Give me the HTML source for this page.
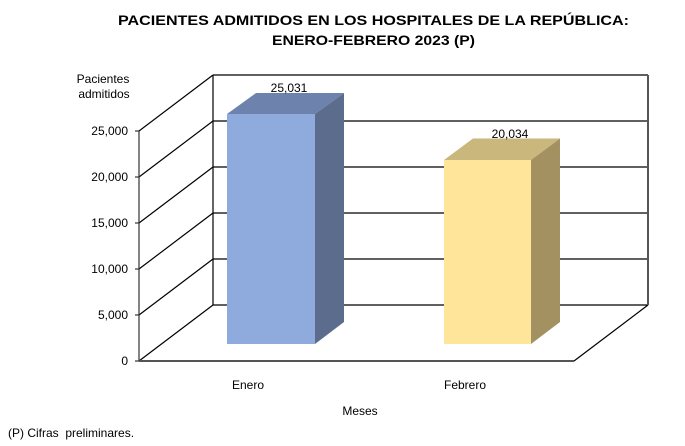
<!DOCTYPE html>
<html>
<head>
<meta charset="utf-8">
<style>
html,body{margin:0;padding:0;background:#fff;}
svg{display:block;}
text{font-family:"Liberation Sans",Arial,sans-serif;fill:#000;}
</style>
</head>
<body>
<svg width="685" height="446" viewBox="0 0 685 446" xmlns="http://www.w3.org/2000/svg">
  <!-- Title -->
  <text x="373.5" y="25" font-size="13.5" font-weight="bold" text-anchor="middle" textLength="511" lengthAdjust="spacingAndGlyphs">PACIENTES ADMITIDOS EN LOS HOSPITALES DE LA REPÚBLICA:</text>
  <text x="373.5" y="45" font-size="13.5" font-weight="bold" text-anchor="middle" textLength="203" lengthAdjust="spacingAndGlyphs">ENERO-FEBRERO 2023 (P)</text>

  <!-- Y axis title -->
  <text x="103" y="83" font-size="12" text-anchor="middle">Pacientes</text>
  <text x="104" y="98" font-size="12" text-anchor="middle">admitidos</text>

  <!-- Back wall gridlines -->
  <g stroke="#000" stroke-width="1.2" fill="none">
    <line x1="213" y1="75" x2="648" y2="75"/>
    <line x1="213" y1="121" x2="648" y2="121"/>
    <line x1="213" y1="167" x2="648" y2="167"/>
    <line x1="213" y1="213" x2="648" y2="213"/>
    <line x1="213" y1="259" x2="648" y2="259"/>
    <line x1="213" y1="305" x2="648" y2="305"/>
    <line x1="213" y1="75" x2="213" y2="305"/>
    <!-- left wall diagonals -->
    <line x1="139" y1="131" x2="213" y2="75"/>
    <line x1="139" y1="177" x2="213" y2="121"/>
    <line x1="139" y1="223" x2="213" y2="167"/>
    <line x1="139" y1="269" x2="213" y2="213"/>
    <line x1="139" y1="315" x2="213" y2="259"/>
    <line x1="139" y1="361" x2="213" y2="305"/>
    <!-- floor right diagonal -->
    <line x1="574" y1="361" x2="648" y2="305"/>
  </g>
  <line x1="648" y1="75" x2="648" y2="305" stroke="#555" stroke-width="2"/>
  <line x1="139" y1="361" x2="574" y2="361" stroke="#555" stroke-width="2"/>
  <!-- left axis -->
  <g stroke="#333" stroke-width="1.2">
    <line x1="139" y1="131" x2="139" y2="361"/>
    <line x1="135" y1="131" x2="139" y2="131"/>
    <line x1="135" y1="177" x2="139" y2="177"/>
    <line x1="135" y1="223" x2="139" y2="223"/>
    <line x1="135" y1="269" x2="139" y2="269"/>
    <line x1="135" y1="315" x2="139" y2="315"/>
    <line x1="135" y1="361" x2="139" y2="361"/>
  </g>
  <g font-size="12" text-anchor="end">
    <text x="128" y="135">25,000</text>
    <text x="128" y="181">20,000</text>
    <text x="128" y="227">15,000</text>
    <text x="128" y="273">10,000</text>
    <text x="128" y="319">5,000</text>
    <text x="128" y="365">0</text>
  </g>

  <!-- Enero bar -->
  <polygon points="227,114 256,93 344,93 315,114" fill="#6D83AE"/>
  <polygon points="315,114 344,93 344,322 315,344" fill="#5B6C8D"/>
  <rect x="227" y="114" width="88" height="230" fill="#8FAADC"/>
  <!-- Febrero bar -->
  <polygon points="444,160 473,138.5 560,138.5 531,160" fill="#C9B77B"/>
  <polygon points="531,160 560,138.5 560,322 531,344" fill="#A39161"/>
  <rect x="444" y="160" width="87" height="184" fill="#FEE599"/>

  <!-- Data labels -->
  <text x="289" y="92" font-size="12" text-anchor="middle">25,031</text>
  <text x="510" y="138" font-size="12" text-anchor="middle">20,034</text>

  <!-- Category labels -->
  <text x="248" y="389" font-size="12" text-anchor="middle">Enero</text>
  <text x="465" y="389" font-size="12" text-anchor="middle">Febrero</text>
  <text x="360" y="415" font-size="12" text-anchor="middle">Meses</text>
  <text x="8" y="437" font-size="12">(P) Cifras&#160; preliminares.</text>
</svg>
</body>
</html>
